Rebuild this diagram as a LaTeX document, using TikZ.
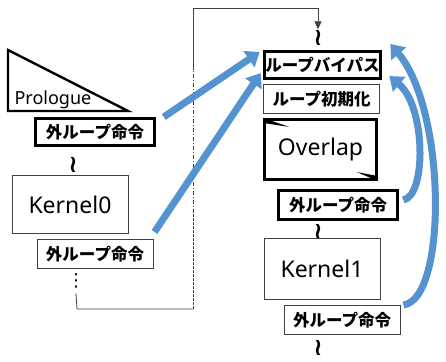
\documentclass[tikz,border=0pt]{standalone}
\usepackage{fontspec}
\setmainfont{Noto Sans}
\newfontfamily\jpfont{Noto Sans CJK JP}
\newfontfamily\symfont{DejaVu Sans}
\usetikzlibrary{positioning,arrows.meta,calc}
\definecolor{flowblue}{HTML}{5592D0}
\definecolor{linegray}{HTML}{404040}
\begin{document}
\begin{tikzpicture}[
  x=1pt, y=1pt,
  thickbox/.style={rectangle, draw, line width=2.6pt, minimum height=27.5pt, inner sep=0pt, font=\jpfont\bfseries\fontsize{16.5}{19}\selectfont},
  thinbox/.style={rectangle, draw=linegray, line width=1pt, minimum width=116pt, minimum height=29pt, inner sep=0pt, font=\jpfont\bfseries\fontsize{16.5}{19}\selectfont},
  kernel/.style={rectangle, draw=linegray, line width=1pt, minimum width=116pt, minimum height=58pt, font=\fontsize{23}{27}\selectfont},
  squig/.style={inner sep=0pt, font=\symfont\bfseries\fontsize{24}{24}\selectfont},
  flow/.style={draw=flowblue, line width=7pt, -{Triangle[width=19pt,length=13pt]}},
  loopline/.style={draw=linegray, line width=0.8pt}
]
\useasboundingbox (0,0) rectangle (446,361);

% Left column
\draw[line width=2.4pt] (8,311) -- (8,250) -- (128,250) -- cycle;
\node[anchor=base west, font=\fontsize{18}{22}\selectfont] (prologue) at (11,256) {Prologue};
\node[thickbox, minimum width=119pt] (outA) at (95,229) {外ループ命令};
\node[squig, below of=outA, node distance=33pt, xshift=-22pt] (wrA) {≀};
\node[kernel, below of=outA, node distance=73pt, xshift=-25pt] (kernel0) {Kernel0};
\node[thinbox, below of=kernel0, node distance=49pt, xshift=25pt] (outB) {外ループ命令};
\node[inner sep=0pt, font=\symfont\fontsize{18}{18}\selectfont, below of=outB, node distance=27pt, xshift=-19pt] (dots) {⋮};

% Right column
\node[thickbox, minimum width=116pt] (bypass) at (322.5,296) {ループバイパス};
\node[squig, above of=bypass, node distance=27pt, xshift=-4.5pt] (wrTop) {≀};
\node[thinbox, below of=bypass, node distance=34pt, xshift=-1pt] (init) {ループ初期化};
\node[rectangle, draw, line width=2.6pt, minimum width=112pt, minimum height=60.5pt, font=\fontsize{23}{27}\selectfont, below of=init, node distance=50.5pt, xshift=-1pt] (overlap) {Overlap};
\fill (overlap.north west) -- ++(26,-9) -- ++(-26,4) -- cycle;
\fill (overlap.south east) -- ++(-21,9) -- ++(21,-4) -- cycle;
\node[thickbox, minimum width=119pt, minimum height=29pt, below of=overlap, node distance=55.5pt, xshift=17.5pt] (outC) {外ループ命令};
\node[squig, below of=outC, node distance=27pt, xshift=-20pt] (wrC) {≀};
\node[kernel, minimum height=60pt, below of=outC, node distance=64pt, xshift=-16pt] (kernel1) {Kernel1};
\node[thinbox, below of=kernel1, node distance=51pt, xshift=20pt] (outD) {外ループ命令};
\node[squig, below of=outD, node distance=27.5pt, xshift=-24pt] (wrD) {≀};

% Loop back line
\coordinate (loopA) at (77,52);
\coordinate (loopB) at (193,52);
\coordinate (loopC) at (193,148);
\coordinate (loopD) at (193,291);
\coordinate (loopE) at (193,353);
\draw[loopline] ([yshift=-5pt]dots.south) -- (loopA) -- (loopB);
\draw[loopline, dash pattern=on 3pt off 1pt] (loopB) -- (loopC);
\draw[loopline, dash pattern=on 4pt off 2pt on 1pt off 2pt] (loopC) -- (loopD);
\draw[loopline, -{Triangle[length=8pt,width=7pt]}] (loopD) -- (loopE) -| ([yshift=1pt]wrTop.north);

% Jumps to the bypass
\draw[flow] ($(outA.north east)+(8,0)$) -- ($(bypass.north west)+(-3.5,-2)$);
\draw[flow] ($(outB.north east)+(1,7)$) -- ($(bypass.south west)+(-2.5,7)$);
\draw[flow] ($(outC.east)+(4.5,5)$) .. controls +(23,4) and +(37,-31) .. ($(bypass.south east)+(7.5,4)$);
\draw[flow] ($(outD.north east)+(3,0)$) .. controls +(44,6) and +(56,-66) .. ($(bypass.north east)+(8.5,6)$);
\end{tikzpicture}
\end{document}
